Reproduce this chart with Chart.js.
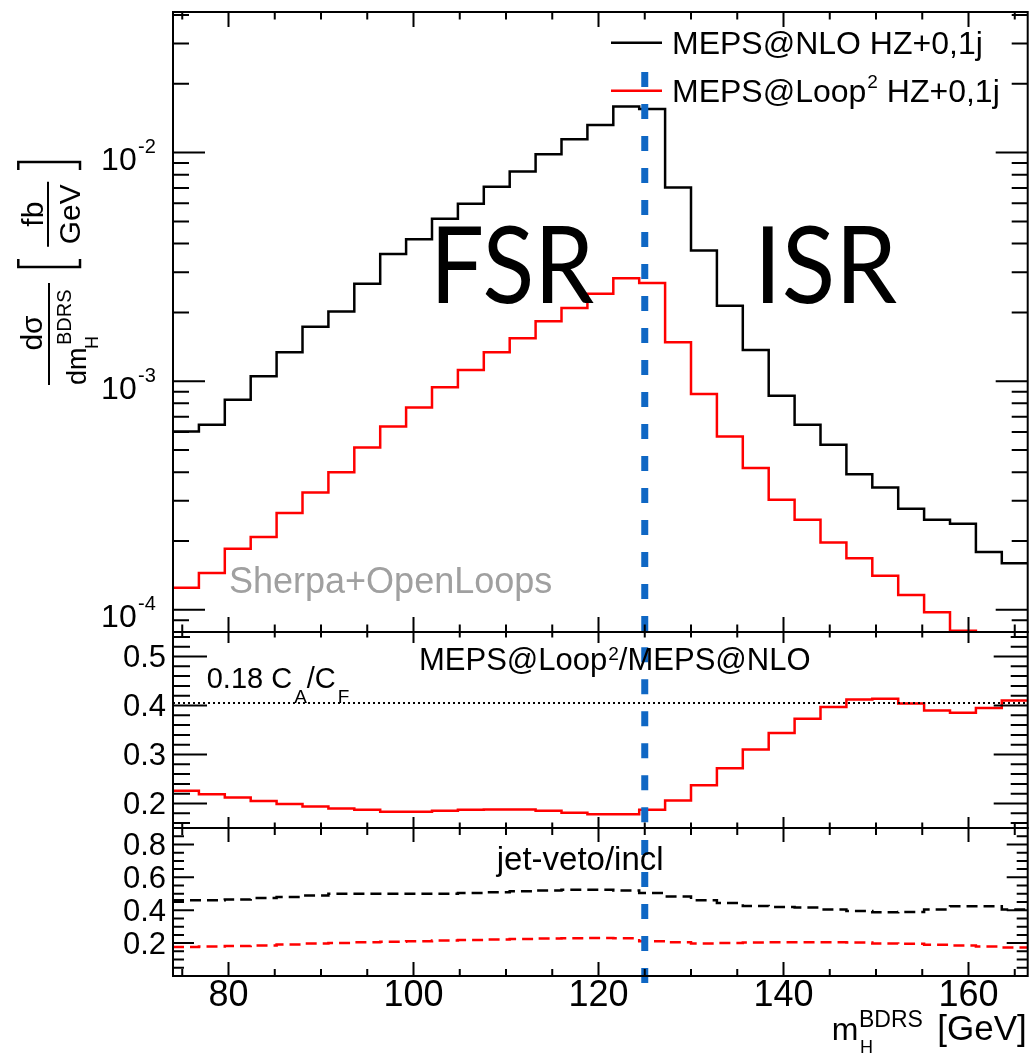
<!DOCTYPE html>
<html>
<head>
<meta charset="utf-8">
<script src="https://cdn.jsdelivr.net/npm/chart.js@4.4.1/dist/chart.umd.min.js"></script>
<style>
  body { margin: 0; background: #fff; }
  #wrap { position: relative; width: 1032px; height: 1057px; overflow: hidden; }
  canvas { position: absolute; left: 0; }
</style>
</head>
<body>
<div id="wrap">
  <canvas id="top" width="1032" height="680" style="top:0px"></canvas>
  <canvas id="mid" width="1032" height="280" style="top:590px"></canvas>
  <canvas id="bot" width="1032" height="267" style="top:790px"></canvas>
</div>
<script>
// m_H^BDRS bins, 2.8 GeV wide (low edges)
const binLow = [74.0, 76.8, 79.6, 82.4, 85.2, 88.0, 90.8, 93.6, 96.4, 99.2, 102.0,
  104.8, 107.6, 110.4, 113.2, 116.0, 118.8, 121.6, 124.4, 127.2, 130.0, 132.8,
  135.6, 138.4, 141.2, 144.0, 146.8, 149.6, 152.4, 155.2, 158.0, 160.8, 163.6];
const binHigh = 166.4;

// dsigma/dm [fb/GeV]
const nloHZ = [6.03e-4, 6.45e-4, 8.3e-4, 1.05e-3, 1.34e-3, 1.73e-3, 2.02e-3, 2.67e-3,
  3.6e-3, 4.18e-3, 5.13e-3, 5.97e-3, 7.08e-3, 8.26e-3, 9.84e-3, 1.144e-2, 1.32e-2,
  1.59e-2, 1.55e-2, 7.03e-3, 3.73e-3, 2.14e-3, 1.37e-3, 8.63e-4, 6.45e-4, 5.27e-4,
  3.92e-4, 3.43e-4, 2.77e-4, 2.48e-4, 2.38e-4, 1.79e-4, 1.60e-4];
const loopHZ = [1.25e-4, 1.45e-4, 1.85e-4, 2.08e-4, 2.65e-4, 3.26e-4, 4.0e-4, 5.13e-4,
  6.34e-4, 7.67e-4, 9.42e-4, 1.12e-3, 1.34e-3, 1.54e-3, 1.83e-3, 2.09e-3, 2.41e-3,
  2.82e-3, 2.69e-3, 1.48e-3, 8.8e-4, 5.73e-4, 4.17e-4, 3.03e-4, 2.48e-4, 1.97e-4,
  1.68e-4, 1.41e-4, 1.16e-4, 9.75e-5, 8.1e-5, 7.0e-5, 6.2e-5];

// MEPS@Loop2 / MEPS@NLO
const ratioLoopNlo = [0.226, 0.219, 0.212, 0.205, 0.199, 0.194, 0.190, 0.187, 0.183,
  0.183, 0.185, 0.187, 0.188, 0.188, 0.185, 0.181, 0.178, 0.178, 0.187, 0.206, 0.237,
  0.272, 0.310, 0.344, 0.373, 0.397, 0.412, 0.414, 0.404, 0.390, 0.385, 0.395, 0.410];

// jet-veto / inclusive
const vetoNlo = [0.46, 0.46, 0.465, 0.475, 0.48, 0.49, 0.50, 0.50, 0.50, 0.50, 0.50,
  0.505, 0.51, 0.515, 0.52, 0.525, 0.525, 0.52, 0.505, 0.484, 0.46, 0.444, 0.426,
  0.42, 0.416, 0.404, 0.395, 0.387, 0.389, 0.405, 0.424, 0.424, 0.404];
const vetoLoop = [0.177, 0.18, 0.183, 0.186, 0.192, 0.197, 0.201, 0.205, 0.209, 0.212,
  0.216, 0.219, 0.222, 0.225, 0.228, 0.23, 0.231, 0.229, 0.212, 0.205, 0.198, 0.2,
  0.203, 0.205, 0.205, 0.205, 0.204, 0.198, 0.196, 0.19, 0.186, 0.18, 0.174];

const caCf = 0.405;      // 0.18 CA/CF
const higgsMass = 125;

// tick labels
const xTickLabels = [80, 100, 120, 140, 160];
const topDecades = [1e-4, 1e-3, 1e-2];
const midTickLabels = [0.2, 0.3, 0.4, 0.5];
const botTickLabels = [0.2, 0.4, 0.6, 0.8];

const FONT = '"Liberation Sans", Arial, Helvetica, sans-serif';
const BLUE = '#0f67c4';

function steps(vals) {
  const pts = binLow.map((x, i) => ({ x: x, y: vals[i] }));
  pts.push({ x: binHigh, y: vals[vals.length - 1] });
  return pts;
}

function range(a, b, s) {
  const out = [];
  for (let v = a; v <= b + 1e-9; v += s) out.push(Math.round(v * 1000) / 1000);
  return out;
}

const xMinor = range(75, 165, 5).filter(v => !xTickLabels.includes(v));
const topMinor = [];
for (let e = -5; e <= -2; e++) {
  for (let m = 2; m <= 9; m++) topMinor.push(m * Math.pow(10, e));
}
const midMinor = range(0.16, 0.54, 0.02).filter(v => !midTickLabels.some(t => Math.abs(t - v) < 1e-6));
const botMinor = range(0.05, 0.85, 0.05).filter(v => !botTickLabels.some(t => Math.abs(t - v) < 1e-6));

function put(ctx, s, x, y, size, opt) {
  opt = opt || {};
  ctx.font = size + 'px ' + (opt.family || FONT);
  ctx.fillStyle = opt.color || '#000';
  ctx.textAlign = opt.align || 'left';
  ctx.textBaseline = 'alphabetic';
  if (opt.maxWidth) ctx.fillText(s, x, y, opt.maxWidth);
  else ctx.fillText(s, x, y);
  return ctx.measureText(s).width;
}

function rot(ctx, s, x, y, size, align) {
  ctx.save();
  ctx.translate(x, y);
  ctx.rotate(-Math.PI / 2);
  const w = put(ctx, s, 0, 0, size, { align: align || 'left' });
  ctx.restore();
  return w;
}

// frame + inward ticks on all four sides (ROOT style)
function frameTicks(spec) {
  return {
    id: 'frameTicks',
    afterDatasetsDraw(chart) {
      const { ctx, chartArea: a } = chart;
      const x = chart.scales.x, y = chart.scales.y;
      ctx.save();
      ctx.strokeStyle = '#000';
      ctx.lineWidth = 2;
      ctx.beginPath();
      const xt = (vals, len) => vals.forEach(v => {
        const p = x.getPixelForValue(v);
        if (p < a.left - 0.5 || p > a.right + 0.5) return;
        ctx.moveTo(p, a.bottom); ctx.lineTo(p, a.bottom - len);
        ctx.moveTo(p, a.top); ctx.lineTo(p, a.top + len);
      });
      const yt = (vals, len) => vals.forEach(v => {
        const p = y.getPixelForValue(v);
        if (p < a.top - 0.5 || p > a.bottom + 0.5) return;
        ctx.moveTo(a.left, p); ctx.lineTo(a.left + len, p);
        ctx.moveTo(a.right, p); ctx.lineTo(a.right - len, p);
      });
      xt(spec.xMajor, spec.xLen[0]);
      xt(spec.xMinor, spec.xLen[1]);
      yt(spec.yMajor, spec.yLen[0]);
      yt(spec.yMinor, spec.yLen[1]);
      ctx.stroke();
      ctx.strokeRect(a.left, a.top, a.right - a.left, a.bottom - a.top);
      ctx.restore();
    }
  };
}

function line(data, color, width, dash, extra) {
  return Object.assign({
    data: data,
    borderColor: color,
    borderWidth: width,
    borderDash: dash || [],
    pointRadius: 0,
    fill: false,
    stepped: true,
    tension: 0
  }, extra || {});
}

function yAxis(type, min, max, ticks, showLabels) {
  return {
    type: type, min: min, max: max,
    afterFit: s => { s.width = 173; },
    afterBuildTicks: s => { s.ticks = ticks.map(v => ({ value: v })); },
    grid: { display: false, drawTicks: false },
    border: { display: false },
    ticks: {
      display: showLabels,
      font: { family: FONT, size: 31 },
      color: '#000',
      padding: 7,
      labelOffset: 2,
      callback: v => v.toFixed(1)
    }
  };
}

function baseOptions(yScale, padding, xVisible) {
  return {
    responsive: false,
    animation: false,
    events: [],
    layout: { padding: padding },
    plugins: { legend: { display: false }, tooltip: { enabled: false } },
    scales: {
      x: {
        type: 'linear', min: binLow[0], max: binHigh,
        display: xVisible,
        afterFit: s => { s.height = xVisible ? 81 : 0; },
        afterBuildTicks: s => { s.ticks = xTickLabels.map(v => ({ value: v })); },
        grid: { display: false, drawTicks: false },
        border: { display: false },
        ticks: {
          font: { family: FONT, size: 36, lineHeight: 1 },
          color: '#000', padding: 2, maxRotation: 0, autoSkip: false
        }
      },
      y: yScale
    }
  };
}

// ---------- top panel ----------
const topText = {
  id: 'topText',
  afterDraw(chart) {
    const ctx = chart.ctx, y = chart.scales.y;
    ctx.save();
    topDecades.forEach(v => {
      const py = y.getPixelForValue(v);
      put(ctx, '10', 136.7, py + 17.3, 32, { align: 'right' });
      put(ctx, String(Math.round(Math.log10(v))), 138, py + 0.3, 20);
    });

    // legend
    const ds = chart.data.datasets;
    ctx.lineWidth = 2.5;
    ctx.strokeStyle = ds[1].borderColor;
    ctx.beginPath(); ctx.moveTo(611, 42.7); ctx.lineTo(662, 42.7); ctx.stroke();
    put(ctx, 'MEPS@NLO HZ+0,1j', 672, 53.5, 32);
    ctx.strokeStyle = ds[2].borderColor;
    ctx.beginPath(); ctx.moveTo(611, 90.7); ctx.lineTo(662, 90.7); ctx.stroke();
    let x = 672;
    x += put(ctx, 'MEPS@Loop', x, 101.7, 32);
    x += put(ctx, '2', x + 1, 88, 19) + 1;
    put(ctx, ' HZ+0,1j', x, 101.7, 32);

    put(ctx, 'FSR', 430, 303.3, 107, { family: 'Lato, "Open Sans", sans-serif', maxWidth: 164 });
    put(ctx, 'ISR', 754, 303.3, 107, { family: 'Lato, "Open Sans", sans-serif', maxWidth: 143 });
    put(ctx, 'Sherpa+OpenLoops', 229, 593.3, 36, { color: '#a0a0a0' });

    // y-axis title
    ctx.strokeStyle = '#000';
    ctx.lineWidth = 2;
    rot(ctx, 'dσ', 41.7, 333, 30, 'center');
    ctx.beginPath(); ctx.moveTo(49, 385); ctx.lineTo(49, 283); ctx.stroke();
    rot(ctx, 'dm', 86, 385, 27);
    rot(ctx, 'H', 97.5, 349, 18);
    rot(ctx, 'BDRS', 71, 345, 20);
    rot(ctx, 'fb', 43, 214.2, 30, 'center');
    ctx.beginPath(); ctx.moveTo(48, 181.7); ctx.lineTo(48, 246.7); ctx.stroke();
    rot(ctx, 'GeV', 80, 214.2, 30, 'center');
    ctx.lineWidth = 2.5;
    ctx.beginPath();
    ctx.moveTo(18.3, 170); ctx.lineTo(18.3, 162); ctx.lineTo(80, 162); ctx.lineTo(80, 170);
    ctx.moveTo(18.3, 259); ctx.lineTo(18.3, 267); ctx.lineTo(80, 267); ctx.lineTo(80, 259);
    ctx.stroke();
    ctx.restore();
  }
};

new Chart(document.getElementById('top'), {
  type: 'line',
  data: {
    datasets: [
      line([{ x: higgsMass, y: 0.02254 }, { x: higgsMass, y: 7e-5 }], BLUE, 7, [15, 17], { stepped: false, order: 0 }),
      line(steps(nloHZ), '#000000', 2.5, [], { order: 1 }),
      line(steps(loopHZ), '#ff0000', 2.5, [], { order: 2 })
    ]
  },
  options: baseOptions(yAxis('logarithmic', 8e-5, 0.0412, topDecades, false),
    { top: 12, bottom: 48, left: 0, right: 4.3 }, false),
  plugins: [frameTicks({ xMajor: xTickLabels, xMinor: xMinor, yMajor: topDecades, yMinor: topMinor,
    xLen: [15, 7.5], yLen: [32, 16] }), topText]
});

// ---------- ratio panel ----------
const midText = {
  id: 'midText',
  afterDraw(chart) {
    const ctx = chart.ctx, oy = 590;
    ctx.save();
    let x = 419;
    x += put(ctx, 'MEPS@Loop', x, 670 - oy, 31);
    x += put(ctx, '2', x + 1, 660 - oy, 19) + 1;
    put(ctx, '/MEPS@NLO', x, 670 - oy, 31);

    x = 206.7;
    x += put(ctx, '0.18 C', x, 688.3 - oy, 29);
    x += put(ctx, 'A', x + 2, 703 - oy, 19) + 2;
    x += put(ctx, '/C', x, 688.3 - oy, 29);
    put(ctx, 'F', x + 2, 703 - oy, 19);
    ctx.restore();
  }
};

new Chart(document.getElementById('mid'), {
  type: 'line',
  data: {
    datasets: [
      line([{ x: higgsMass, y: 0.55 }, { x: higgsMass, y: 0.14 }], BLUE, 7, [15, 17], { stepped: false, order: 0, borderDashOffset: 16.7 }),
      line([{ x: binLow[0], y: caCf }, { x: binHigh, y: caCf }], '#000000', 2, [2, 3], { stepped: false, order: 1 }),
      line(steps(ratioLoopNlo), '#ff0000', 2.5, [], { order: 2 })
    ]
  },
  options: baseOptions(yAxis('linear', 0.15, 0.55, midTickLabels, true),
    { top: 42, bottom: 42, left: 0, right: 4.3 }, false),
  plugins: [frameTicks({ xMajor: xTickLabels, xMinor: xMinor, yMajor: midTickLabels, yMinor: midMinor,
    xLen: [11, 5.5], yLen: [34, 17] }), midText]
});

// ---------- jet-veto panel ----------
const botText = {
  id: 'botText',
  afterDraw(chart) {
    const ctx = chart.ctx, oy = 790;
    ctx.save();
    put(ctx, 'jet-veto/incl', 496.7, 870 - oy, 33);
    put(ctx, 'm', 831.7, 1040 - oy, 32);
    put(ctx, 'BDRS', 859, 1026.7 - oy, 23);
    put(ctx, 'H', 860, 1053.3 - oy, 18);
    put(ctx, '[GeV]', 1026.7, 1040 - oy, 35, { align: 'right' });
    ctx.restore();
  }
};

new Chart(document.getElementById('bot'), {
  type: 'line',
  data: {
    datasets: [
      line([{ x: higgsMass, y: 0.9 }, { x: higgsMass, y: -0.042 }], BLUE, 7, [15, 17],
        { stepped: false, order: 0, borderDashOffset: 20, clip: { left: 0, top: 0, right: 0, bottom: 10 } }),
      line(steps(vetoNlo), '#000000', 2.5, [11, 6], { order: 1 }),
      line(steps(vetoLoop), '#ff0000', 2.5, [11, 6], { order: 2 })
    ]
  },
  options: baseOptions(yAxis('linear', 0, 0.9, botTickLabels, true),
    { top: 38, bottom: 0, left: 0, right: 4.3 }, true),
  plugins: [frameTicks({ xMajor: xTickLabels, xMinor: xMinor, yMajor: botTickLabels, yMinor: botMinor,
    xLen: [14, 7], yLen: [21, 11] }), botText]
});
</script>
</body>
</html>
